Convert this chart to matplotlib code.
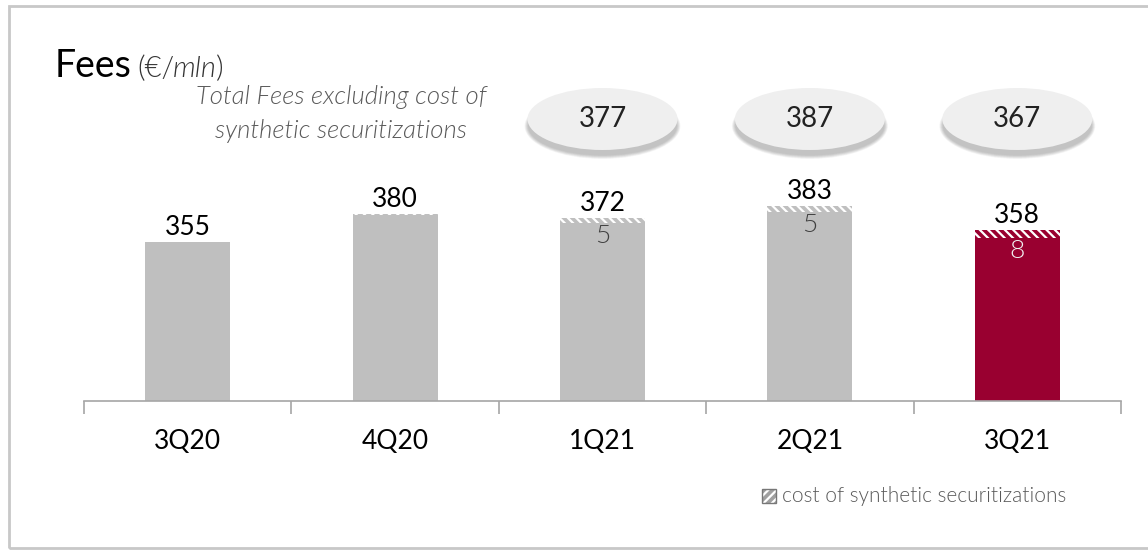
import matplotlib
matplotlib.use('Agg')
import matplotlib.pyplot as plt
from matplotlib.patches import Ellipse, Rectangle

plt.rcParams['font.family'] = ['Lato', 'DejaVu Sans']
plt.rcParams['hatch.linewidth'] = 1.6

quarters = ['3Q20', '4Q20', '1Q21', '2Q21', '3Q21']
fees = [355, 380, 372, 383, 358]
cost = [0, 1, 5, 5, 8]
cost_labels = ['', '', '5', '5', '8']
total_excl = [None, None, 377, 387, 367]

gray = '#bfbfbf'
red = '#990030'
bar_colors = [gray, gray, gray, gray, red]
inner_colors = ['#404040', '#404040', '#404040', '#404040', '#f2f2f2']

W, H = 1148, 550
fig = plt.figure(figsize=(W / 100, H / 100), dpi=100)

# axes placed so the baseline sits where the reference has it
ax = fig.add_axes([84 / W, 1 - 401 / H, 1037 / W, 341 / H])
ymin = 206
ppu = 1.07  # pixels per unit
ax.set_ylim(ymin, ymin + 341 / ppu)
ax.set_xlim(-0.5, len(quarters) - 0.5)

x = list(range(len(quarters)))
ax.bar(x, fees, width=0.41, color=bar_colors, linewidth=0)
ax.bar(x, cost, bottom=fees, width=0.41, color=bar_colors, edgecolor='white',
       hatch='\\\\\\\\', linewidth=0)

for i in x:
    ax.text(i, fees[i] + cost[i] + 2 / ppu, str(fees[i]), ha='center', va='bottom',
            fontsize=19, color='black')
    if cost_labels[i]:
        ax.text(i, fees[i] - 1 / ppu, cost_labels[i], ha='center', va='top',
                fontsize=19, fontweight=300, color=inner_colors[i])

# bubbles with total fees excluding cost
px_x = 207.4
for i in x:
    if total_excl[i] is None:
        continue
    cy = ymin + (401 - 119) / ppu
    w = 150 / px_x
    h = 62 / ppu
    for k in range(8):
        ax.add_patch(Ellipse((i, cy - 7 / ppu), w + (6 - k) / px_x, h + (4 - k) / ppu,
                             facecolor='black', alpha=0.03, linewidth=0, clip_on=False))
    ax.add_patch(Ellipse((i, cy), w, h, facecolor='#efefef', linewidth=0, clip_on=False))
    ax.text(i, cy, str(total_excl[i]), ha='center', va='center', fontsize=20, color='#222222')

for side in ['top', 'right', 'left']:
    ax.spines[side].set_visible(False)
ax.spines['bottom'].set_color('#a6a6a6')
ax.spines['bottom'].set_linewidth(1.2)
ax.set_yticks([])
ax.set_xticks(x)
ax.set_xticklabels(quarters, fontsize=19)
ax.tick_params(axis='x', which='major', length=0, pad=20)
ax.set_xticks([i - 0.5 for i in range(len(quarters) + 1)], minor=True)
ax.tick_params(axis='x', which='minor', length=9, color='#a6a6a6', width=1.2)

# titles
fig.text(55 / W, 1 - 77 / H, 'Fees', fontsize=27, color='black', va='baseline')
t1 = fig.text(137 / W, 1 - 77 / H, '(€/', fontsize=21, fontweight=300, color='#333333',
              va='baseline')
t2 = ax.annotate('mln', xy=(1, 0), xycoords=t1, xytext=(-1, 0), textcoords='offset pixels',
                 fontsize=21, fontweight=300, style='italic', color='#333333', va='bottom')
ax.annotate(')', xy=(1, 0), xycoords=t2, xytext=(-1, 0), textcoords='offset pixels',
            fontsize=21, fontweight=300, color='#333333', va='bottom')

fig.text(341 / W, 1 - 114 / H, 'Total Fees excluding cost of\nsynthetic securitizations',
         ha='center', va='center', fontsize=18.5, style='italic', fontweight=300,
         color='#595959', linespacing=1.55)

# legend
fig.add_artist(Rectangle((762 / W, 1 - 503 / H), 14 / W, 14 / H, facecolor='#a0a0a0',
                         edgecolor='white', hatch='////', linewidth=0,
                         transform=fig.transFigure))
fig.add_artist(Rectangle((762 / W, 1 - 503 / H), 14 / W, 14 / H, facecolor='none',
                         edgecolor='#777777', linewidth=1, transform=fig.transFigure))
fig.text(782 / W, 1 - 496 / H, 'cost of synthetic securitizations', fontsize=15,
         fontweight=300, color='#595959', va='center')

# outer frame
fig.add_artist(Rectangle((9 / W, 1 - 548 / H), 1.2, (548 - 6) / H, facecolor='none',
                         edgecolor='#c8c8c8', linewidth=2, transform=fig.transFigure))

fig.savefig('out.png', dpi=100)
